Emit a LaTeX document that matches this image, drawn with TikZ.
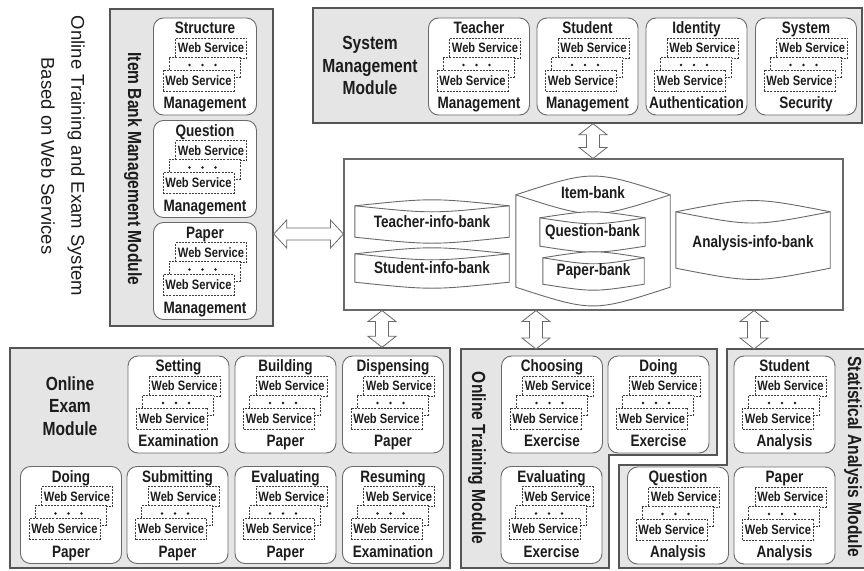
\documentclass[tikz,border=0pt]{standalone}
\usepackage{fontspec}
\setmainfont{Liberation Sans}[FakeStretch=0.82]
\newfontfamily\titlefont{Liberation Sans}
\usetikzlibrary{calc}

\definecolor{modfill}{RGB}{229,229,229}
\definecolor{modline}{RGB}{85,85,85}
\definecolor{boxline}{RGB}{105,105,105}
\definecolor{ink}{RGB}{28,28,28}

\tikzset{
  module/.style={draw=modline, line width=1.4pt, fill=modfill, inner sep=0pt},
  svcbox/.style={draw=boxline, line width=0.9pt, fill=white, rounded corners=10pt,
    minimum width=101pt, minimum height=97pt, inner sep=0pt},
  wsrect/.style={draw=ink!85, dash pattern=on 2pt off 1.2pt, line width=0.7pt, fill=white,
    minimum width=71pt, minimum height=20pt, inner sep=0pt,
    font=\bfseries\fontsize{13.6}{14}\selectfont, text=ink},
  svclabel/.style={inner sep=0pt, anchor=base, font=\bfseries\fontsize{16.5}{18}\selectfont, text=ink},
  modtitle/.style={inner sep=0pt, align=center, font=\bfseries\fontsize{19}{22.5}\selectfont, text=ink},
  dbbody/.style={inner sep=0pt, draw=none},
  dbline/.style={draw=boxline, line width=0.9pt, fill=white},
  dbtext/.style={inner sep=0pt, font=\bfseries\fontsize{16.5}{18}\selectfont, text=ink},
  hollowline/.style={draw=boxline, line width=0.8pt, fill=white, line join=miter},
}

% a service unit: rounded box, stacked web-service sheets, caption above and below
\newcommand\svc[5][101]{%
  \node[svcbox, minimum width=#1] (#2) at (#3) {};
  \node[wsrect] (#2-back) at ($(#2)+(6,-18.5)$) {Web Service};
  \node[wsrect] (#2-mid) at ($(#2)+(-0.5,0.5)$) {};
  \foreach \dx in {-15.5,-2.5,10.5} \fill[ink] ($(#2)+(\dx,-1.5)$) circle (1.3);
  \node[wsrect, minimum height=21pt] (#2-front) at ($(#2)+(-6.5,14)$) {Web Service};
  \node[svclabel] (#2-title) at ($(#2)+(0,-33)$) {#4};
  \node[svclabel] (#2-label) at ($(#2)+(0,42)$) {#5};
}

% database drum: body node plus lens-shaped top and curved bottom
\newcommand\bank[5]{%
  \node[dbbody, minimum width=#3, minimum height=#4] (#1) at (#2) {};
  \draw[dbline] (#1.north west) .. controls ($(#1.north)+(0,-2*#5)$) .. (#1.north east)
     -- (#1.south east) .. controls ($(#1.south)+(0,2*#5)$) .. (#1.south west) -- cycle;
  \draw[dbline, fill=none] (#1.north west) .. controls ($(#1.north)+(0,2*#5)$) .. (#1.north east);
}

% hollow double arrows between two named points
\newcommand\vhollow[2]{%
  \draw[hollowline] (#1) -- ($(#1)+(14,11)$) -- ($(#1)+(6.5,11)$) -- ($(#2)+(6.5,-11)$)
    -- ($(#2)+(14,-11)$) -- (#2) -- ($(#2)+(-14,-11)$) -- ($(#2)+(-6.5,-11)$)
    -- ($(#1)+(-6.5,11)$) -- ($(#1)+(-14,11)$) -- cycle;}
\newcommand\hhollow[2]{%
  \draw[hollowline] (#1) -- ($(#1)+(13,-14)$) -- ($(#1)+(13,-6)$) -- ($(#2)+(-13,-6)$)
    -- ($(#2)+(-13,-14)$) -- (#2) -- ($(#2)+(-13,14)$) -- ($(#2)+(-13,6)$)
    -- ($(#1)+(13,6)$) -- ($(#1)+(13,14)$) -- cycle;}

\begin{document}
\begin{tikzpicture}[x=1pt,y=-1pt]
\useasboundingbox (0,0) rectangle (864,570);
\clip (0,0) rectangle (864,570);
\fill[white] (0,0) rectangle (864,570);

% system title
\node[inner sep=0pt, rotate=-90, align=center, text=ink,
      font=\titlefont\fontsize{18.5}{30}\selectfont] (systitle) at (63,156)
  {Online Training and Exam System\\Based on Web Services};

% module frames
\node[module, minimum width=163, minimum height=317] (itemmod) at (191.5,167.5) {};
\node[module, minimum width=549, minimum height=115] (sysmod) at (587.5,65.5) {};
\node[module, minimum width=440, minimum height=220] (exammod) at (230,458) {};
\draw[module] (461,349) coordinate (trnw) -- (717,349) -- (717,455) -- (609,455)
  -- (609,568) -- (461,568) -- cycle;
\draw[module] (727,349) coordinate (stnw) -- (872,349) -- (872,568) -- (619,568)
  -- (619,465) -- (727,465) -- cycle;

% module captions
\node[modtitle, rotate=-90] (itemcap) at (133,169) {Item Bank Management Module};
\node[modtitle] (syscap) at (370,65.5) {System\\Management\\Module};
\node[modtitle] (examcap) at (70,406) {Online\\Exam\\Module};
\node[modtitle, rotate=-90] (trcap) at (477,458) {Online Training Module};
\node[modtitle, rotate=-90] (stcap) at (853,457) {Statistical Analysis Module};

% item bank management services
\svc[103]{structure}{205,66.5}{Structure}{Management}
\svc[103]{questionm}{205,169}{Question}{Management}
\svc[103]{paperm}{205,271}{Paper}{Management}

% system management services
\svc{teacherm}{479,66.5}{Teacher}{Management}
\svc{studentm}{587.5,66.5}{Student}{Management}
\svc{identity}{696.5,66.5}{Identity}{Authentication}
\svc{security}{806,66.5}{System}{Security}

% online exam services
\svc{setting}{178.5,404.5}{Setting}{Examination}
\svc{building}{285.5,404.5}{Building}{Paper}
\svc{dispensing}{393,404.5}{Dispensing}{Paper}
\svc{doingp}{71,515}{Doing}{Paper}
\svc{submitting}{177.5,515}{Submitting}{Paper}
\svc{evaluatingp}{285.5,515}{Evaluating}{Paper}
\svc{resuming}{393,515}{Resuming}{Examination}

% online training services
\svc{choosing}{552,404.5}{Choosing}{Exercise}
\svc{doingx}{658.5,404.5}{Doing}{Exercise}
\svc{evaluatingx}{551.5,515}{Evaluating}{Exercise}

% statistical analysis services
\svc{studenta}{784.5,404.5}{Student}{Analysis}
\svc{questiona}{678,515.5}{Question}{Analysis}
\svc{papera}{784.5,515.5}{Paper}{Analysis}

% central data store
\node[draw=boxline, line width=1.1pt, fill=white, minimum width=499, minimum height=151,
      inner sep=0pt] (db) at (593.5,234.5) {};
\bank{tib}{432,221.5}{154}{31}{4}
\node[dbtext] (tibtext) at (tib) {Teacher-info-bank};
\bank{sib}{432,268}{154}{28}{4}
\node[dbtext] (sibtext) at (sib) {Student-info-bank};
\bank{ib}{593,241}{154}{92}{12.5}
\node[dbtext] (ibtext) at (593,193) {Item-bank};
\bank{qb}{592.5,232}{105}{28}{4}
\node[dbtext] (qbtext) at (qb) {Question-bank};
\bank{pb}{593.5,271}{101}{26}{4}
\node[dbtext] (pbtext) at (pb) {Paper-bank};
\bank{aib}{753,240}{154}{56}{7.5}
\node[dbtext] (aibtext) at ($(aib)+(0,3)$) {Analysis-info-bank};

% links between modules and the data store
\coordinate (ax1) at (593,0);
\coordinate (ax2) at (382,0);
\coordinate (ax3) at (536,0);
\coordinate (ax4) at (754,0);
\coordinate (ay1) at (0,234);
\coordinate (s1) at (sysmod.south -| ax1);
\coordinate (e1) at (db.north -| ax1);
\coordinate (s2) at (itemmod.east |- ay1);
\coordinate (e2) at (db.west |- ay1);
\coordinate (s3) at (db.south -| ax2);
\coordinate (e3) at (exammod.north -| ax2);
\coordinate (s4) at (db.south -| ax3);
\coordinate (e4) at (trnw -| ax3);
\coordinate (s5) at (db.south -| ax4);
\coordinate (e5) at (stnw -| ax4);
\vhollow{s1}{e1}
\hhollow{s2}{e2}
\vhollow{s3}{e3}
\vhollow{s4}{e4}
\vhollow{s5}{e5}
\end{tikzpicture}
\end{document}
